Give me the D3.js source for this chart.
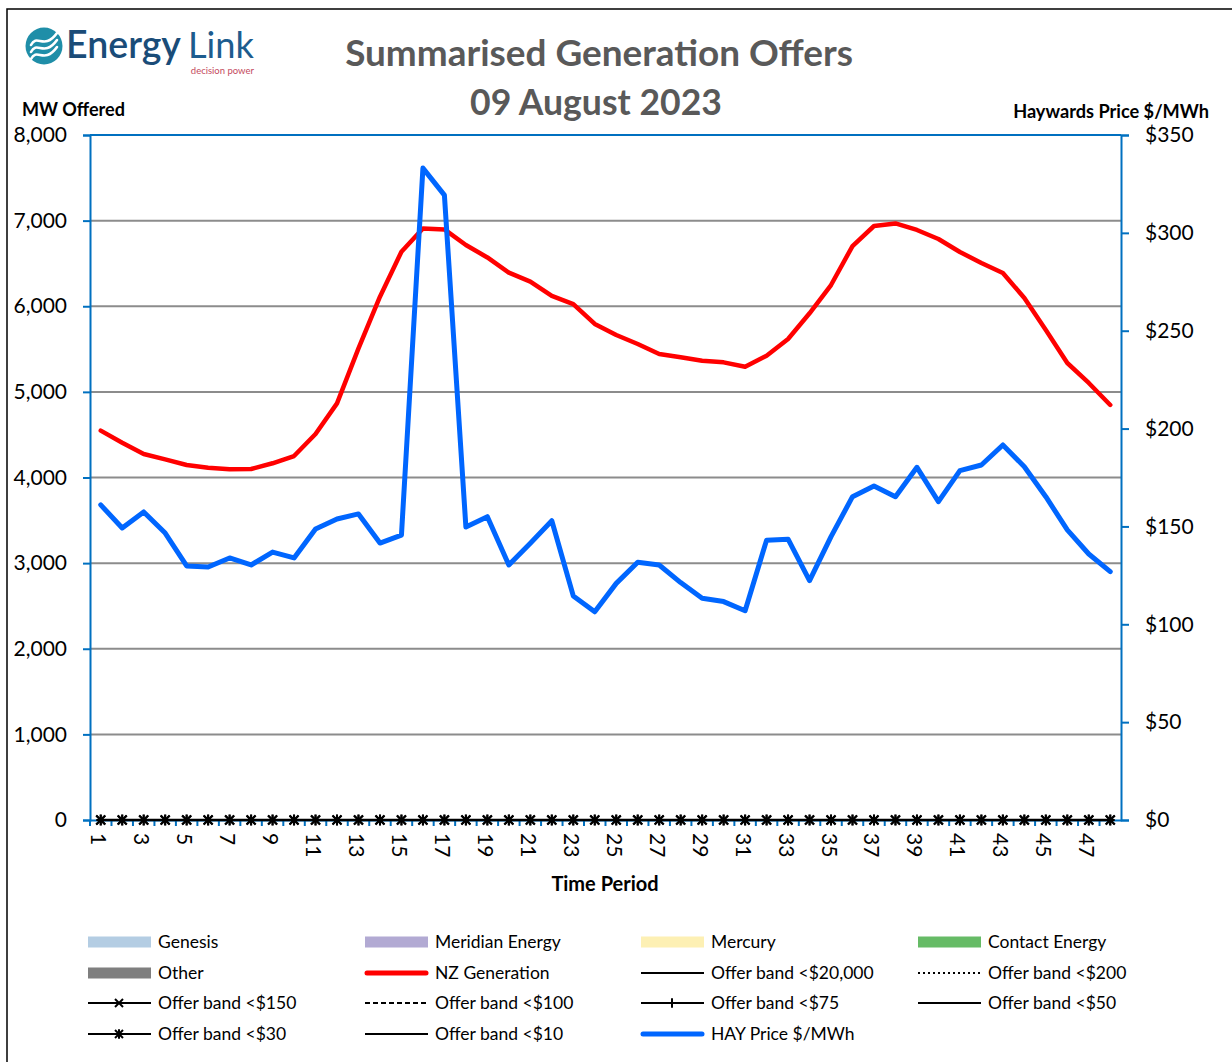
<!DOCTYPE html>
<html lang="en">
<head>
<meta charset="utf-8" />
<script src="https://d3js.org/d3.v7.min.js"></script>
<style>
  body { margin: 0; background: #fff; }
  text { font-family: Lato, "Open Sans", sans-serif; }
</style>
</head>
<body>
<script>
const w = 1232;
const h = 1062;

// half-hour trading periods
const periods = [1,2,3,4,5,6,7,8,9,10,11,12,13,14,15,16,17,18,19,20,21,22,23,24,
                 25,26,27,28,29,30,31,32,33,34,35,36,37,38,39,40,41,42,43,44,45,46,47,48];

// NZ Generation (MW)
const nzGeneration = [4547,4406,4274,4212,4146,4114,4096,4099,4166,4251,4508,4866,
                      5508,6112,6637,6909,6897,6715,6570,6392,6288,6120,6026,5793,
                      5664,5559,5442,5404,5364,5345,5294,5423,5618,5918,6248,6703,
                      6937,6967,6891,6785,6634,6505,6388,6096,5723,5337,5104,4847];

// HAY price $/MWh
const hayPrice = [161.0,149.2,157.4,146.6,129.8,129.3,133.9,130.3,136.9,133.9,148.7,153.8,
                  156.4,141.5,145.6,333.1,319.3,149.7,155.0,130.3,141.4,152.9,114.5,106.4,
                  120.9,131.7,130.3,121.3,113.3,111.6,106.9,143.0,143.5,122.3,144.8,165.2,
                  170.7,165.2,180.2,162.7,178.5,181.4,191.6,180.5,165.2,148.2,135.9,126.9];

// offer bands all sit at zero on this day
const offerBandValues = [0,0,0,0,0,0,0,0,0,0,0,0,0,0,0,0,0,0,0,0,0,0,0,0,
                         0,0,0,0,0,0,0,0,0,0,0,0,0,0,0,0,0,0,0,0,0,0,0,0];

const mwTicks = [0,1000,2000,3000,4000,5000,6000,7000,8000];
const priceTicks = [0,50,100,150,200,250,300,350];

const legendItems = [
  {name: "Genesis", kind: "area", color: "#b4cde3"},
  {name: "Meridian Energy", kind: "area", color: "#b2aad3"},
  {name: "Mercury", kind: "area", color: "#fdf0b4"},
  {name: "Contact Energy", kind: "area", color: "#66bb66"},
  {name: "Other", kind: "area", color: "#7f7f7f"},
  {name: "NZ Generation", kind: "thick", color: "#ff0000"},
  {name: "Offer band <$20,000", kind: "line"},
  {name: "Offer band <$200", kind: "dot"},
  {name: "Offer band <$150", kind: "cross"},
  {name: "Offer band <$100", kind: "dash"},
  {name: "Offer band <$75", kind: "plus"},
  {name: "Offer band <$50", kind: "line"},
  {name: "Offer band <$30", kind: "star"},
  {name: "Offer band <$10", kind: "line"},
  {name: "HAY Price $/MWh", kind: "thick", color: "#0066ff"}
];

const plotLeft = 90, plotRight = 1121, plotTop = 135, plotBottom = 820;
const axisBlue = "#0070c0";

const svg = d3.select("body").append("svg")
  .attr("width", w).attr("height", h);

// frame
svg.append("rect")
  .attr("x", 7).attr("y", 9).attr("width", 1240).attr("height", 1080)
  .attr("fill", "none").attr("stroke", "#000").attr("stroke-width", 1.5);

function fitWidth(sel, target) {
  const cur = sel.node().getComputedTextLength();
  const fs = parseFloat(sel.style("font-size"));
  sel.style("font-size", (fs * target / cur) + "px");
}

// logo
const logo = svg.append("g");
logo.append("circle").attr("cx", 44).attr("cy", 46).attr("r", 18.5).attr("fill", "#1f8ea8");
[-7, 0, 7].forEach(off => {
  logo.append("path")
    .attr("d", `M31,${52 + off} C37,${40 + off} 44,${58 + off} 57,${40 + off}`)
    .attr("fill", "none").attr("stroke", "#fff").attr("stroke-width", 2.6)
    .attr("stroke-linecap", "round");
});
const eName = logo.append("text").attr("x", 66).attr("y", 58)
  .style("font-size", "34px").style("font-weight", 600).attr("fill", "#1a4c78").text("Energy");
fitWidth(eName, 115);
const lName = logo.append("text").attr("x", 188).attr("y", 58)
  .style("font-size", "34px").style("font-weight", 400).attr("fill", "#1d5c8e").text("Link");
fitWidth(lName, 66);
logo.append("text").attr("x", 254).attr("y", 74).attr("text-anchor", "end")
  .style("font-size", "9.5px").attr("fill", "#c44a5e").text("decision power");

// titles
const t1 = svg.append("text").attr("x", 599).attr("y", 66).attr("text-anchor", "middle")
  .style("font-size", "36px").style("font-weight", "bold").attr("fill", "#595959")
  .text("Summarised Generation Offers");
fitWidth(t1, 508);
const t2 = svg.append("text").attr("x", 596).attr("y", 115).attr("text-anchor", "middle")
  .style("font-size", "36px").style("font-weight", "bold").attr("fill", "#595959")
  .text("09 August 2023");
fitWidth(t2, 252);

const yl = svg.append("text").attr("x", 22).attr("y", 116)
  .style("font-size", "17px").style("font-weight", "bold").text("MW Offered");
fitWidth(yl, 103);
const yr = svg.append("text").attr("x", 1209).attr("y", 118).attr("text-anchor", "end")
  .style("font-size", "17px").style("font-weight", "bold").text("Haywards Price $/MWh");
fitWidth(yr, 196);

// scales
const x = d3.scaleBand().domain(periods).range([plotLeft, plotRight]).paddingInner(0).paddingOuter(0);
const cx = p => x(p) + x.bandwidth() / 2;
const yMW = d3.scaleLinear().domain([0, 8000]).range([plotBottom, plotTop]);
const yPrice = d3.scaleLinear().domain([0, 350]).range([plotBottom, plotTop]);

// gridlines
svg.append("g").selectAll("line")
  .data(mwTicks.filter(d => d > 0 && d < 8000))
  .join("line")
  .attr("x1", plotLeft).attr("x2", plotRight)
  .attr("y1", d => yMW(d)).attr("y2", d => yMW(d))
  .attr("stroke", "#8c8c8c").attr("stroke-width", 2);

// top border of plot
svg.append("line").attr("x1", plotLeft).attr("x2", plotRight)
  .attr("y1", yMW(8000)).attr("y2", yMW(8000))
  .attr("stroke", axisBlue).attr("stroke-width", 2);

// left axis
const yAxisL = svg.append("g")
  .attr("transform", `translate(${plotLeft},0)`)
  .call(d3.axisLeft(yMW).tickValues(mwTicks).tickSize(7).tickPadding(16)
    .tickFormat(d3.format(",")));
yAxisL.select(".domain").attr("stroke", axisBlue).attr("stroke-width", 2);
yAxisL.selectAll(".tick line").attr("stroke", axisBlue).attr("stroke-width", 2);
yAxisL.selectAll(".tick text").style("font-size", "21px").attr("fill", "#000")
  .style("font-family", "Lato, sans-serif");

// right axis
const yAxisR = svg.append("g")
  .attr("transform", `translate(${plotRight},0)`)
  .call(d3.axisRight(yPrice).tickValues(priceTicks).tickSize(8).tickPadding(16)
    .tickFormat(d => "$" + d));
yAxisR.select(".domain").attr("stroke", axisBlue).attr("stroke-width", 2);
yAxisR.selectAll(".tick line").attr("stroke", axisBlue).attr("stroke-width", 2);
yAxisR.selectAll(".tick text").style("font-size", "21px").attr("fill", "#000")
  .style("font-family", "Lato, sans-serif");

// x axis
const xAxis = svg.append("g")
  .attr("transform", `translate(0,${plotBottom})`)
  .call(d3.axisBottom(x).tickValues(periods.filter(p => p % 2 === 1)).tickSize(0).tickPadding(0));
xAxis.select(".domain").attr("stroke", axisBlue).attr("stroke-width", 2);
xAxis.selectAll(".tick text")
  .attr("y", 0).attr("dy", 0)
  .attr("transform", "translate(-1,13) rotate(90)")
  .attr("text-anchor", "start").attr("dominant-baseline", "central")
  .style("font-size", "21px").attr("fill", "#000")
  .style("font-family", "Lato, sans-serif");
svg.append("g").selectAll("line")
  .data(periods)
  .join("line")
  .attr("x1", d => x(d)).attr("x2", d => x(d))
  .attr("y1", plotBottom).attr("y2", plotBottom + 6)
  .attr("stroke", axisBlue).attr("stroke-width", 2);

svg.append("text").attr("x", 605).attr("y", 891).attr("text-anchor", "middle")
  .style("font-size", "20px").style("font-weight", "bold").text("Time Period");

// offer bands (all zero)
const bandLine = d3.line().x((d, i) => cx(periods[i])).y(d => yMW(d));
svg.append("path").datum(offerBandValues).attr("d", bandLine)
  .attr("fill", "none").attr("stroke", "#000").attr("stroke-width", 2.5);

function marker(g, kind, s) {
  if (kind === "cross" || kind === "star") {
    g.append("line").attr("x1", -s).attr("y1", -s).attr("x2", s).attr("y2", s);
    g.append("line").attr("x1", -s).attr("y1", s).attr("x2", s).attr("y2", -s);
  }
  if (kind === "plus" || kind === "star") {
    g.append("line").attr("x1", 0).attr("y1", -s * 1.2).attr("x2", 0).attr("y2", s * 1.2);
  }
  if (kind === "plus") {
    g.append("line").attr("x1", -s).attr("y1", 0).attr("x2", s).attr("y2", 0);
  }
  g.selectAll("line").attr("stroke", "#000").attr("stroke-width", 2);
}
["cross", "plus", "star"].forEach(kind => {
  svg.append("g").selectAll("g")
    .data(offerBandValues)
    .join("g")
    .attr("transform", (d, i) => `translate(${cx(periods[i])},${yMW(d)})`)
    .each(function () { marker(d3.select(this), kind, 4.5); });
});

// NZ generation
svg.append("path").datum(nzGeneration)
  .attr("d", d3.line().x((d, i) => cx(periods[i])).y(d => yMW(d)))
  .attr("fill", "none").attr("stroke", "#ff0000").attr("stroke-width", 4.5)
  .attr("stroke-linejoin", "round").attr("stroke-linecap", "round");

// HAY price
svg.append("path").datum(hayPrice)
  .attr("d", d3.line().x((d, i) => cx(periods[i])).y(d => yPrice(d)))
  .attr("fill", "none").attr("stroke", "#0066ff").attr("stroke-width", 5)
  .attr("stroke-linejoin", "round").attr("stroke-linecap", "round");

// legend
const colX = [88, 365, 641, 918];
const rowY = [942, 973, 1003, 1034];
const lg = svg.append("g").selectAll("g")
  .data(legendItems)
  .join("g")
  .attr("transform", (d, i) => `translate(${colX[i % 4]},${rowY[Math.floor(i / 4)]})`);

lg.each(function (d) {
  const g = d3.select(this);
  if (d.kind === "area") {
    g.append("rect").attr("x", 0).attr("y", -5.5).attr("width", 63).attr("height", 11).attr("fill", d.color);
  } else if (d.kind === "thick") {
    g.append("line").attr("x1", 2).attr("x2", 61).attr("y1", 0).attr("y2", 0)
      .attr("stroke", d.color).attr("stroke-width", 5).attr("stroke-linecap", "round");
  } else {
    const ln = g.append("line").attr("x1", 0).attr("x2", 63).attr("y1", 0).attr("y2", 0)
      .attr("stroke", "#000").attr("stroke-width", 2);
    if (d.kind === "dot") ln.attr("stroke-dasharray", "2,3");
    if (d.kind === "dash") ln.attr("stroke-dasharray", "5,3");
    if (d.kind === "cross" || d.kind === "plus" || d.kind === "star") {
      const mg = g.append("g").attr("transform", "translate(31,0)");
      marker(mg, d.kind, 4);
    }
  }
  g.append("text").attr("x", 70).attr("y", 6)
    .style("font-size", "17.5px").attr("fill", "#000").text(d.name);
});
</script>
</body>
</html>
